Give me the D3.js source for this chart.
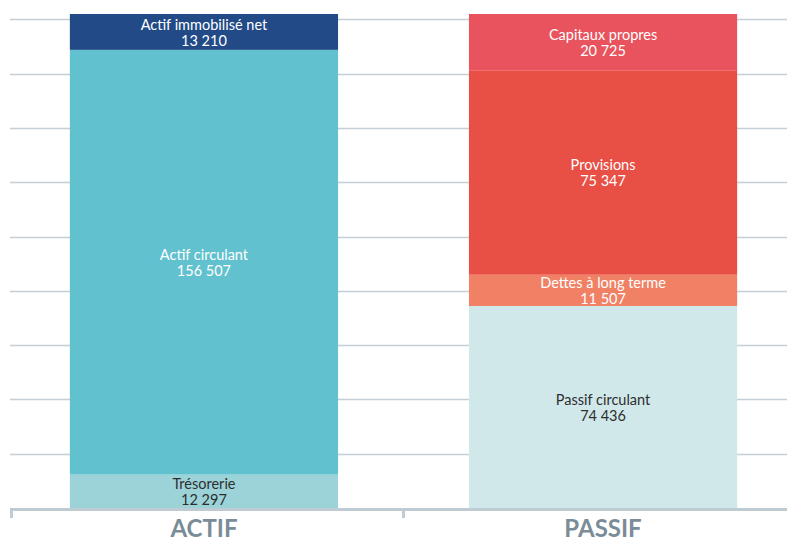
<!DOCTYPE html>
<html>
<head>
<meta charset="utf-8">
<script src="https://cdn.jsdelivr.net/npm/d3@7"></script>
<style>
  body { margin: 0; background: #fff; }
  svg { display: block; font-family: Lato, "Noto Sans", sans-serif; }
</style>
</head>
<body>
<script>
var width = 787;
var height = 541;

// data
var categories = ["ACTIF", "PASSIF"];
var actifLabels = ["Trésorerie", "Actif circulant", "Actif immobilisé net"];
var actifValues = [12297, 156507, 13210];
var passifLabels = ["Passif circulant", "Dettes à long terme", "Provisions", "Capitaux propres"];
var passifValues = [74436, 11507, 75347, 20725];

// colours, bottom to top
var actifColors = ["#9cd3d9", "#61c1ce", "#214a87"];
var passifColors = ["#d0e8ea", "#f08165", "#e84f45", "#e8535d"];
var darkText = ["Trésorerie", "Passif circulant"];

var fr = d3.formatLocale({ decimal: ",", thousands: " ", grouping: [3], currency: ["", " €"] });
var fmt = fr.format(",d");

function stackUp(labels, values, colors, cat) {
    var acc = 0;
    return values.map(function (v, i) {
        var seg = { cat: cat, label: labels[i], value: v, y0: acc, y1: acc + v, color: colors[i] };
        acc += v;
        return seg;
    });
}
var segments = stackUp(actifLabels, actifValues, actifColors, "ACTIF")
    .concat(stackUp(passifLabels, passifValues, passifColors, "PASSIF"));

var totals = [d3.sum(actifValues), d3.sum(passifValues)];

var svg = d3.select("body").append("svg").attr("width", width).attr("height", height);

var baseY = 508;
var y = d3.scaleLinear().domain([0, d3.max(totals)]).range([baseY, 14]);
var x = d3.scaleBand().domain(categories).range([10, 797]).paddingInner(0.328).paddingOuter(0.15);

// gridlines
svg.append("g").selectAll("line")
    .data(y.ticks(10).filter(function (d) { return d > 0; }))
    .enter().append("line")
    .attr("x1", 10).attr("x2", width)
    .attr("y1", function (d) { return Math.round(y(d)) + 0.5; })
    .attr("y2", function (d) { return Math.round(y(d)) + 0.5; })
    .attr("stroke", "#c4cfd7")
    .attr("stroke-width", 1.6);

// bars
svg.append("g").selectAll("rect")
    .data(segments)
    .enter().append("rect")
    .attr("x", function (d) { return x(d.cat); })
    .attr("width", x.bandwidth())
    .attr("y", function (d) { return y(d.y1); })
    .attr("height", function (d) { return y(d.y0) - y(d.y1); })
    .attr("fill", function (d) { return d.color; });

// segment labels: name line and value line
function cx(d) { return x(d.cat) + x.bandwidth() / 2; }
function cy(d) { return (y(d.y0) + y(d.y1)) / 2; }
function txtFill(d) { return darkText.indexOf(d.label) >= 0 ? "#2e2e2e" : "#ffffff"; }

var labels = svg.append("g").attr("text-anchor", "middle").attr("font-size", 14.5);
labels.selectAll(".name").data(segments).enter().append("text")
    .attr("class", "name")
    .attr("x", cx)
    .attr("y", function (d) { return cy(d) - 2; })
    .attr("fill", txtFill)
    .text(function (d) { return d.label; });
labels.selectAll(".val").data(segments).enter().append("text")
    .attr("class", "val")
    .attr("x", cx)
    .attr("y", function (d) { return cy(d) + 14; })
    .attr("fill", txtFill)
    .text(function (d) { return fmt(d.value); });

// category axis
var axis = svg.append("g").attr("transform", "translate(0," + baseY + ")");
axis.append("line")
    .attr("x1", 10).attr("x2", width)
    .attr("y1", 1.5).attr("y2", 1.5)
    .attr("stroke", "#bfcbd3").attr("stroke-width", 3);
var sepX = [x.range()[0] + 1.5, (x("ACTIF") + x.bandwidth() + x("PASSIF")) / 2];
axis.selectAll(".sep").data(sepX).enter().append("line")
    .attr("class", "sep")
    .attr("x1", function (d) { return d; }).attr("x2", function (d) { return d; })
    .attr("y1", 0).attr("y2", 10)
    .attr("stroke", "#bfcbd3").attr("stroke-width", 3);

axis.selectAll(".cat").data(categories).enter().append("text")
    .attr("class", "cat")
    .attr("text-anchor", "middle")
    .attr("x", function (d) { return x(d) + x.bandwidth() / 2; })
    .attr("y", 29)
    .attr("font-size", 24)
    .attr("font-weight", "bold")
    .attr("fill", "#7a8c98")
    .text(function (d) { return d; });
</script>
</body>
</html>
